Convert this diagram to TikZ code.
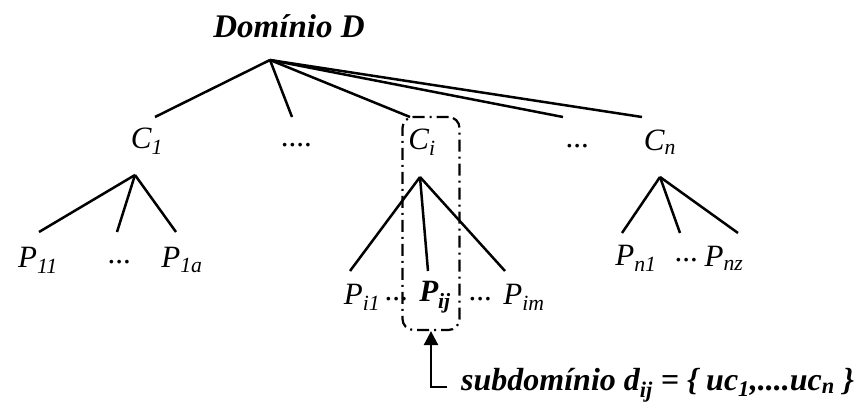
\documentclass[tikz,border=0pt]{standalone}
\usepackage{fontspec}
\setmainfont{Liberation Serif}
\usetikzlibrary{arrows.meta}

\tikzset{
  lbl/.style={font=\fontsize{31}{34}\selectfont\itshape,inner sep=0pt},
  boldlbl/.style={font=\fontsize{32}{36}\selectfont\bfseries\itshape,inner sep=0pt},
  branch/.style={line width=2.5pt},
  subbox/.style={draw,dash pattern=on 12pt off 5pt on 2pt off 5pt,line width=2.2pt,
    rounded corners=11pt,minimum width=57pt,minimum height=213pt,inner sep=0pt},
}

\begin{document}
\begin{tikzpicture}[x=1pt,y=-1pt,>={Triangle[length=14pt,width=14pt]}]
    \useasboundingbox (0,0) rectangle (860,405);
    % domain and its classes
    \node[boldlbl,font=\fontsize{33}{36}\selectfont\bfseries\itshape] (dom) at (289,26) {Domínio D};
    \coordinate (root) at (270,60);
    \node[lbl] (c1) at (147,141) {C\textsubscript{1}};
    \node[lbl] (dots1) at (297,145) {....};
    \node[lbl] (ci) at (422,142) {C\textsubscript{i}};
    \node[lbl] (dots2) at (578,146) {...};
    \node[lbl] (cn) at (660,142) {C\textsubscript{n}};
    \coordinate (c1 top) at (155,117);
    \coordinate (dots1 top) at (292,117);
    \coordinate (ci top) at (410,117);
    \coordinate (dots2 top) at (563,117);
    \coordinate (cn top) at (642,117);
    \path[branch]
      (root) edge (c1 top) edge (dots1 top) edge (ci top)
             edge (dots2 top) edge (cn top);
    % leaves of C1
    \coordinate (c1 apex) at (135,175);
    \node[lbl] (p11) at (38,260) {P\textsubscript{11}};
    \node[lbl] (p1dots) at (120,262) {...};
    \node[lbl] (p1a) at (182,260) {P\textsubscript{1a}};
    \coordinate (p11 top) at (39,232);
    \coordinate (p1dots top) at (117,232);
    \coordinate (p1a top) at (176,232);
    \path[branch]
      (c1 apex) edge (p11 top) edge (p1dots top) edge (p1a top);
    % leaves of Ci
    \coordinate (ci apex) at (420,177);
    \node[lbl] (pi1) at (362,297) {P\textsubscript{i1}};
    \node[lbl] (pidots1) at (397,299) {...};
    \node[boldlbl,font=\fontsize{31}{34}\selectfont\bfseries\itshape] (pij) at (435,297) {P\textsubscript{ij}};
    \node[lbl] (pidots2) at (481,299) {...};
    \node[lbl] (pim) at (524,297) {P\textsubscript{im}};
    \coordinate (pi1 top) at (350,271);
    \coordinate (pij top) at (428,271);
    \coordinate (pim top) at (505,271);
    \path[branch]
      (ci apex) edge (pi1 top) edge (pij top) edge (pim top);
    % leaves of Cn
    \coordinate (cn apex) at (660,177);
    \node[lbl] (pn1) at (636,258) {P\textsubscript{n1}};
    \node[lbl] (pndots) at (687,260) {...};
    \node[lbl] (pnz) at (724,258) {P\textsubscript{nz}};
    \coordinate (pn1 top) at (622,233);
    \coordinate (pndots top) at (680,233);
    \coordinate (pnz top) at (738,233);
    \path[branch]
      (cn apex) edge (pn1 top) edge (pndots top) edge (pnz top);
    % subdomain
    \node[subbox] (cibox) at (431,223.5) {};
    \node[boldlbl,anchor=west] (sub) at (461,385)
      {subdomínio d\textsubscript{ij} = \{ uc\textsubscript{1},....uc\textsubscript{n} \}};
    \coordinate (sub end) at (447,387);
    \draw[branch,->] (sub end) -| (cibox.south);
\end{tikzpicture}
\end{document}
